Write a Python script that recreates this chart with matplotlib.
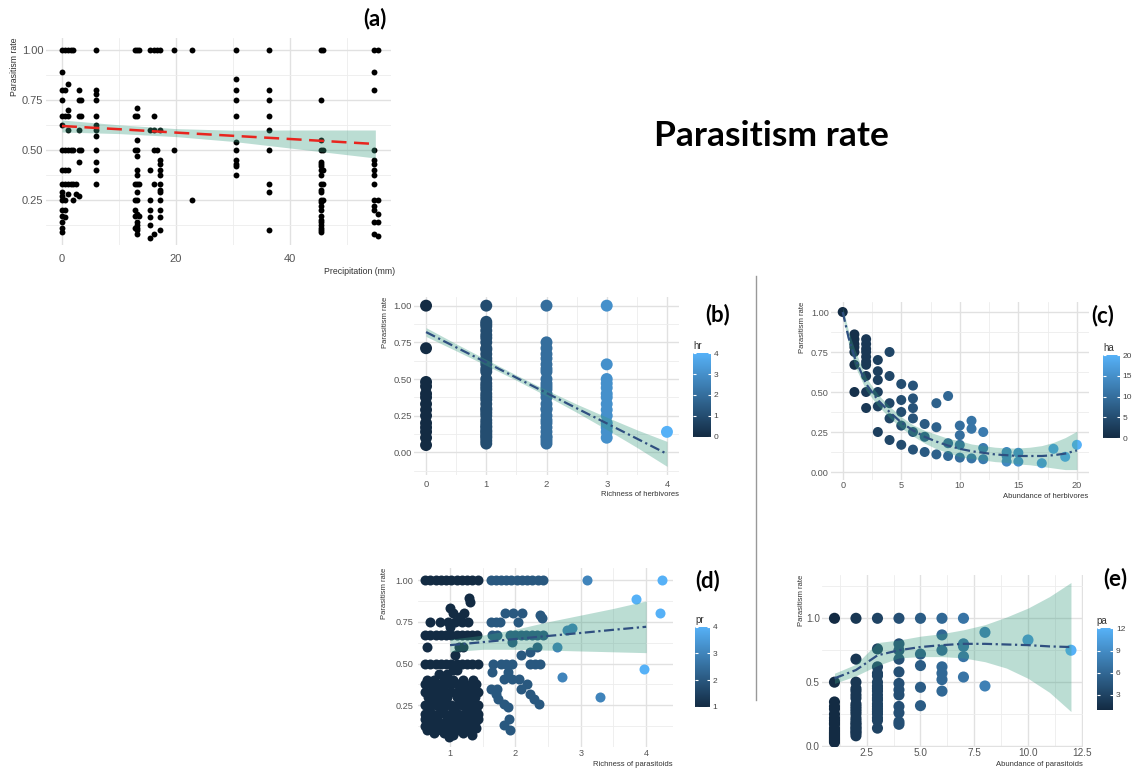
import matplotlib
matplotlib.use('Agg')
import matplotlib.pyplot as plt
import matplotlib.cm as cm
from matplotlib.colors import LinearSegmentedColormap, Normalize

plt.rcParams['font.family'] = ['Liberation Sans', 'DejaVu Sans']

# ---------------- data ----------------
# (a) precipitation vs parasitism rate
a_precip = [0.0, 0.5, 1.0, 1.5, 2.0, 2.5, 3.0, 3.4, 6.0, 12.8, 13.2, 13.6, 15.5, 16.2,
            16.6, 17.2, 19.6, 22.9, 30.5, 36.4, 45.4, 45.8, 54.7, 55.4]
a_rates = [
    [1.0, 0.89, 0.8, 0.75, 0.67, 0.625, 0.5, 0.4, 0.33, 0.29, 0.27, 0.25, 0.2, 0.17, 0.14, 0.11, 0.09],
    [1.0, 0.8, 0.67, 0.5, 0.4, 0.33, 0.25, 0.2, 0.167],
    [1.0, 0.83, 0.7, 0.67, 0.6, 0.5, 0.4, 0.33, 0.28],
    [1.0, 0.5, 0.33],
    [1.0, 0.5, 0.33, 0.25],
    [0.33, 0.28],
    [0.8, 0.75, 0.67, 0.6, 0.5, 0.44, 0.27],
    [0.75, 0.67, 0.5],
    [1.0, 0.8, 0.78, 0.75, 0.67, 0.625, 0.6, 0.57, 0.5, 0.44, 0.4, 0.33],
    [1.0, 0.67, 0.5, 0.33, 0.25, 0.2, 0.17, 0.11],
    [1.0, 0.71, 0.67, 0.55, 0.5, 0.47, 0.4, 0.375, 0.33, 0.29, 0.25, 0.18, 0.14, 0.125, 0.11, 0.1, 0.08],
    [1.0, 0.33, 0.17],
    [1.0, 0.6, 0.4, 0.25, 0.2, 0.167, 0.125, 0.06],
    [1.0, 0.67, 0.6, 0.5, 0.33, 0.08],
    [1.0, 0.5],
    [1.0, 0.6, 0.45, 0.43, 0.4, 0.375, 0.33, 0.3, 0.29, 0.25, 0.2, 0.167, 0.1],
    [1.0, 0.5],
    [1.0, 0.25],
    [1.0, 0.857, 0.8, 0.75, 0.67, 0.54, 0.5, 0.45, 0.43, 0.42, 0.375],
    [1.0, 0.8, 0.75, 0.67, 0.6, 0.5, 0.33, 0.29, 0.1],
    [1.0, 0.75, 0.55, 0.5, 0.44, 0.43, 0.42, 0.4, 0.375, 0.33, 0.3, 0.29, 0.25, 0.24, 0.22,
     0.2, 0.17, 0.15, 0.14, 0.125, 0.11, 0.1, 0.09],
    [1.0, 0.5, 0.4, 0.33, 0.25],
    [1.0, 0.89, 0.8, 0.5, 0.45, 0.43, 0.4, 0.375, 0.33, 0.25, 0.22, 0.2, 0.14, 0.08],
    [1.0, 0.25, 0.18, 0.14, 0.07],
]
a_fit_x = [0, 10, 20, 30, 40, 55]
a_fit_y = [0.62, 0.604, 0.587, 0.571, 0.555, 0.53]
a_fit_lo = [0.59, 0.582, 0.567, 0.543, 0.51, 0.46]
a_fit_hi = [0.65, 0.626, 0.607, 0.599, 0.60, 0.60]

# (b) richness of herbivores
b_hr = [0, 1, 2, 3, 4]
b_rates = [
    [1.0, 0.71, 0.48, 0.45, 0.4, 0.375, 0.33, 0.29, 0.25, 0.2, 0.17, 0.14, 0.1, 0.05],
    [1.0, 0.89, 0.875, 0.86, 0.83, 0.8, 0.78, 0.75, 0.71, 0.7, 0.67, 0.64, 0.62, 0.6, 0.57,
     0.55, 0.5, 0.47, 0.45, 0.43, 0.4, 0.38, 0.36, 0.33, 0.3, 0.29, 0.27, 0.25, 0.22, 0.2,
     0.18, 0.17, 0.15, 0.14, 0.125, 0.11, 0.1, 0.08, 0.06],
    [1.0, 0.75, 0.71, 0.67, 0.64, 0.6, 0.57, 0.55, 0.5, 0.47, 0.45, 0.43, 0.4, 0.375, 0.33,
     0.3, 0.29, 0.25, 0.22, 0.2, 0.17, 0.14, 0.11, 0.1, 0.08, 0.06],
    [1.0, 0.6, 0.5, 0.47, 0.44, 0.4, 0.375, 0.33, 0.29, 0.25, 0.2, 0.17, 0.14, 0.1],
    [0.14],
]
b_fit_x = [0, 0.5, 1, 1.5, 2, 2.5, 3, 3.5, 4]
b_fit_y = [0.82, 0.716, 0.613, 0.509, 0.405, 0.301, 0.198, 0.094, -0.01]
b_fit_lo = [0.79, 0.692, 0.593, 0.491, 0.385, 0.273, 0.156, 0.034, -0.095]
b_fit_hi = [0.85, 0.740, 0.633, 0.527, 0.425, 0.329, 0.240, 0.154, 0.075]

# (c) abundance of herbivores
c_ha = [0, 1, 2, 3, 4, 5, 6, 7, 8, 9, 10, 11, 12, 14, 15, 17, 18, 19, 20]
c_rates = [
    [1.0],
    [0.86, 0.83, 0.8, 0.78, 0.75, 0.67, 0.5],
    [0.83, 0.8, 0.77, 0.75, 0.72, 0.69, 0.67, 0.6, 0.5, 0.4],
    [0.7, 0.63, 0.575, 0.5, 0.41, 0.25],
    [0.75, 0.6, 0.43, 0.335, 0.2],
    [0.55, 0.45, 0.375, 0.29, 0.17],
    [0.54, 0.46, 0.4, 0.335, 0.25, 0.14],
    [0.3, 0.22, 0.125],
    [0.43, 0.28, 0.11],
    [0.475, 0.18, 0.1],
    [0.29, 0.23, 0.17, 0.09],
    [0.32, 0.27, 0.085],
    [0.25, 0.15, 0.08],
    [0.125, 0.1, 0.065],
    [0.12, 0.065],
    [0.055],
    [0.145],
    [0.095],
    [0.17],
]
c_fit_x = [0, 0.5, 1, 2, 3, 4, 5, 6, 7, 8, 9, 10, 11, 12, 13, 14, 15, 16, 17, 18, 19, 20]
c_fit_y = [1.0, 0.84, 0.72, 0.55, 0.45, 0.375, 0.31, 0.26, 0.22, 0.19, 0.165, 0.145, 0.13,
           0.12, 0.11, 0.105, 0.10, 0.10, 0.10, 0.105, 0.115, 0.135]
c_fit_lo = [0.97, 0.80, 0.67, 0.51, 0.415, 0.34, 0.275, 0.225, 0.18, 0.145, 0.12, 0.095,
            0.085, 0.075, 0.065, 0.06, 0.05, 0.045, 0.035, 0.025, 0.015, 0.015]
c_fit_hi = [1.03, 0.88, 0.77, 0.59, 0.485, 0.41, 0.345, 0.295, 0.26, 0.235, 0.21, 0.195,
            0.175, 0.165, 0.155, 0.15, 0.15, 0.155, 0.165, 0.185, 0.215, 0.255]

# (d) richness of parasitoids (jittered positions as they appear)
d1_row_y = [1.0, 0.89, 0.87, 0.83, 0.8, 0.78, 0.75, 0.72, 0.67, 0.6, 0.55, 0.5, 0.46, 0.44,
            0.4, 0.375, 0.33, 0.3, 0.286, 0.25, 0.222, 0.2, 0.18, 0.167, 0.143, 0.125,
            0.111, 0.1, 0.083, 0.07, 0.06]
d1_row_x = [
    [0.62, 0.70, 0.78, 0.86, 0.94, 1.02, 1.10, 1.18, 1.26, 1.34, 1.42],
    [1.29], [1.31], [1.00], [1.05, 1.22], [1.15],
    [0.69, 0.85, 0.97, 1.08, 1.18, 1.28], [1.00],
    [0.62, 0.70, 0.78, 0.86, 0.94, 1.02, 1.10, 1.18, 1.26, 1.34, 1.41],
    [0.64, 1.13, 1.20], [1.08],
    [0.62, 0.70, 0.78, 0.86, 0.94, 1.02, 1.10, 1.18, 1.26, 1.34, 1.42],
    [1.04, 1.10], [0.83, 0.95],
    [0.65, 0.75, 0.90, 1.05, 1.20, 1.35],
    [0.62, 0.72, 0.82, 0.92, 1.02, 1.12, 1.22, 1.32, 1.40],
    [0.62, 0.70, 0.78, 0.86, 0.94, 1.02, 1.10, 1.18, 1.26, 1.34, 1.42],
    [0.66, 0.80, 0.95, 1.10, 1.25, 1.38],
    [0.70, 0.90, 1.15, 1.30],
    [0.62, 0.70, 0.78, 0.86, 0.94, 1.02, 1.10, 1.18, 1.26, 1.34, 1.42],
    [0.68, 0.88, 1.05, 1.27, 1.40],
    [0.62, 0.72, 0.82, 0.92, 1.02, 1.12, 1.22, 1.32, 1.42],
    [0.75, 1.00, 1.20],
    [0.62, 0.80, 0.95, 1.10, 1.30, 1.42],
    [0.70, 0.90, 1.05, 1.25, 1.38],
    [0.62, 0.78, 0.98, 1.15, 1.33],
    [0.68, 0.86, 1.06, 1.22, 1.40],
    [0.65, 0.80, 0.95, 1.12, 1.28],
    [0.75, 0.90, 1.20],
    [1.05, 1.33],
    [0.98],
]
d2_row_y = [1.0, 0.8, 0.79, 0.77, 0.75, 0.67, 0.63, 0.6, 0.57, 0.55, 0.5, 0.45, 0.41, 0.38,
            0.35, 0.32, 0.29, 0.26, 0.24, 0.17, 0.13, 0.1]
d2_row_x = [
    [1.62, 1.70, 1.78, 1.86, 1.94, 2.02, 2.10, 2.18, 2.26, 2.34, 2.42],
    [1.84, 1.97, 2.10], [2.38], [2.41], [1.62, 1.70, 1.76, 2.04],
    [1.64, 1.72, 1.92, 2.00, 2.08, 2.16, 2.25, 2.33, 2.42],
    [1.95], [2.33], [2.22], [2.08],
    [1.66, 1.78, 1.86, 1.95, 2.22, 2.30, 2.38],
    [1.64, 1.88], [1.82, 1.95, 2.05], [2.17], [1.62, 1.72, 2.08], [1.70, 2.23],
    [1.74, 2.28], [1.82, 2.36], [1.88], [1.90], [1.82], [1.92],
]
d3_x = [2.63, 2.71, 2.79, 2.86, 3.09, 3.30]
d3_y = [0.6, 0.42, 0.70, 0.715, 1.0, 0.30]
d4_x = [3.84, 4.24, 4.21, 3.97]
d4_y = [0.886, 1.0, 0.8, 0.47]
d_fit_x = [1, 1.5, 2, 2.5, 3, 3.5, 4]
d_fit_y = [0.61, 0.628, 0.647, 0.665, 0.683, 0.702, 0.72]
d_fit_lo = [0.57, 0.585, 0.585, 0.58, 0.575, 0.57, 0.565]
d_fit_hi = [0.645, 0.67, 0.705, 0.75, 0.79, 0.83, 0.875]

# (e) abundance of parasitoids
e_pa = [1, 2, 3, 4, 5, 6, 7, 8, 10, 12]
e_rates = [
    [1.0, 0.5, 0.345, 0.31, 0.29, 0.25, 0.22, 0.2, 0.18, 0.17, 0.14, 0.125, 0.11, 0.1,
     0.09, 0.08, 0.07, 0.06, 0.05, 0.04, 0.03],
    [1.0, 0.68, 0.5, 0.45, 0.43, 0.4, 0.375, 0.33, 0.31, 0.29, 0.27, 0.25, 0.22, 0.2,
     0.18, 0.17, 0.15, 0.14, 0.125, 0.11, 0.1, 0.08],
    [1.0, 0.76, 0.62, 0.57, 0.55, 0.5, 0.47, 0.45, 0.43, 0.4, 0.375, 0.36, 0.33, 0.31,
     0.29, 0.27, 0.25, 0.22, 0.2, 0.14],
    [1.0, 0.8, 0.75, 0.68, 0.58, 0.49, 0.44, 0.4, 0.31, 0.26, 0.19, 0.17],
    [1.0, 0.72, 0.63, 0.46, 0.316],
    [1.0, 0.87, 0.75, 0.62, 0.57, 0.52, 0.43],
    [1.0, 0.8, 0.78, 0.7, 0.54],
    [0.89, 0.47],
    [0.83],
    [0.75],
]
e_fit_x = [1, 2, 3, 4, 5, 6, 7, 8, 9, 10, 11, 12]
e_fit_y = [0.53, 0.595, 0.71, 0.75, 0.775, 0.79, 0.80, 0.80, 0.795, 0.79, 0.78, 0.775]
e_fit_lo = [0.49, 0.55, 0.63, 0.69, 0.70, 0.70, 0.69, 0.66, 0.61, 0.53, 0.42, 0.27]
e_fit_hi = [0.57, 0.64, 0.81, 0.83, 0.86, 0.88, 0.91, 0.95, 1.01, 1.08, 1.17, 1.28]

# ---------------- styling ----------------
W, H = 1133, 769
fig = plt.figure(figsize=(W / 100, H / 100), dpi=100)

gg_cmap = LinearSegmentedColormap.from_list('gg', ['#132B43', '#56B1F7'])
ribbon_col = '#3a9c80'
ribbon_alpha = 0.34
fit_col = '#2f4f80'
dashdot = (0, (4.5, 1.6, 1.0, 1.6))
tag_font = ['Lato', 'Liberation Sans', 'DejaVu Sans']


def axes_px(l, t, r, b):
    return fig.add_axes([l / W, 1 - b / H, (r - l) / W, (b - t) / H])


def gg_minimal(ax, xlim, ylim, xmaj, xmin, ymaj, ymin, xfmt, yfmt, fs, xpad, ypad):
    ax.set_xlim(xlim)
    ax.set_ylim(ylim)
    ax.set_xticks(xmaj)
    ax.set_xticks(xmin, minor=True)
    ax.set_yticks(ymaj)
    ax.set_yticks(ymin, minor=True)
    ax.set_xticklabels([xfmt.format(v) for v in xmaj])
    ax.set_yticklabels([yfmt.format(v) for v in ymaj])
    for s in ax.spines.values():
        s.set_visible(False)
    ax.grid(True, which='major', color='#e1e1e1', lw=1.0)
    ax.grid(True, which='minor', color='#ededed', lw=0.6)
    ax.set_axisbelow(True)
    ax.tick_params(which='both', length=0, labelsize=fs, labelcolor='#555555')
    ax.tick_params(axis='x', pad=xpad)
    ax.tick_params(axis='y', pad=ypad)


def axis_titles(ax, xt, yt, xy, yx, fs, xx=1.0):
    ax.text(xx, xy, xt, transform=ax.transAxes, ha='right', va='center', fontsize=fs, color='#333333')
    ax.text(yx, 1.0, yt, transform=ax.transAxes, ha='center', va='top', rotation=90,
            fontsize=fs, color='#333333')


def colorbar_px(l, t, r, b, vmin, vmax, ticks, title):
    cax = axes_px(l, t, r, b)
    sm = cm.ScalarMappable(norm=Normalize(vmin, vmax), cmap=gg_cmap)
    cb = fig.colorbar(sm, cax=cax)
    cb.outline.set_visible(False)
    cb.set_ticks(ticks)
    cb.minorticks_off()
    cax.tick_params(direction='in', length=2.5, width=0.8, color='white', left=True, right=True,
                    labelsize=6, labelcolor='#444444', pad=2)
    fig.text(l / W, 1 - (t - 2) / H, title, fontsize=7, ha='left', va='bottom', color='#333333')


def panel_tag(x, y, s):
    fig.text(x / W, 1 - y / H, s, fontsize=16, fontweight='bold', ha='center', va='center',
             family=tag_font)


norm_b = Normalize(0, 4)
norm_c = Normalize(0, 20)
norm_d = Normalize(1, 4)
norm_e = Normalize(1, 12)

# ---- (a)
ax_a = axes_px(46.3, 38, 391, 245)
gg_minimal(ax_a, (-2.75, 57.75), (0.025, 1.06), [0, 20, 40], [10, 30, 50],
           [0.25, 0.5, 0.75, 1.0], [0.125, 0.375, 0.625, 0.875], '{:.0f}', '{:.2f}', 8, 6.5, 2.2)
ax_a_x = [p for p, rs in zip(a_precip, a_rates) for _ in rs]
ax_a_y = [r for rs in a_rates for r in rs]
ax_a.scatter(ax_a_x, ax_a_y, s=18, color='black', linewidths=0, zorder=2)
ax_a.fill_between(a_fit_x, a_fit_lo, a_fit_hi, color=ribbon_col, alpha=ribbon_alpha, lw=0, zorder=3)
ax_a.plot(a_fit_x, a_fit_y, color='#e8251e', lw=1.8, ls=(0, (6, 3)), zorder=4)
axis_titles(ax_a, 'Precipitation (mm)', 'Parasitism rate', -0.126, -0.091, 6.3, xx=1.012)

# ---- (b)
ax_b = axes_px(414, 297, 679, 475)
gg_minimal(ax_b, (-0.2, 4.2), (-0.154, 1.059), [0, 1, 2, 3, 4], [0.5, 1.5, 2.5, 3.5],
           [0, 0.25, 0.5, 0.75, 1.0], [-0.125, 0.125, 0.375, 0.625, 0.875],
           '{:.0f}', '{:.2f}', 6.8, 3.6, 1.5)
bx = [h for h, rs in zip(b_hr, b_rates) for _ in rs]
by = [r for rs in b_rates for r in rs]
ax_b.scatter(bx, by, c=bx, cmap=gg_cmap, norm=norm_b, s=74, linewidths=0, zorder=2)
ax_b.fill_between(b_fit_x, b_fit_lo, b_fit_hi, color=ribbon_col, alpha=ribbon_alpha, lw=0, zorder=3)
ax_b.plot(b_fit_x, b_fit_y, color=fit_col, lw=1.6, ls=dashdot, zorder=4)
axis_titles(ax_b, 'Richness of herbivores', 'Parasitism rate', -0.107, -0.109, 5.5)
colorbar_px(693.3, 353.3, 710.7, 436.7, 0, 4, [0, 1, 2, 3, 4], 'hr')

# ---- (c)
ax_c = axes_px(831, 302, 1088.6, 480)
gg_minimal(ax_c, (-1, 21), (-0.05, 1.0625), [0, 5, 10, 15, 20], [2.5, 7.5, 12.5, 17.5],
           [0, 0.25, 0.5, 0.75, 1.0], [0.125, 0.375, 0.625, 0.875],
           '{:.0f}', '{:.2f}', 6.6, 1.0, 1.5)
cx = [h for h, rs in zip(c_ha, c_rates) for _ in rs]
cy = [r for rs in c_rates for r in rs]
ax_c.scatter(cx, cy, c=cx, cmap=gg_cmap, norm=norm_c, s=52, linewidths=0, zorder=2)
ax_c.fill_between(c_fit_x, c_fit_lo, c_fit_hi, color=ribbon_col, alpha=ribbon_alpha, lw=0, zorder=3)
ax_c.plot(c_fit_x, c_fit_y, color=fit_col, lw=1.6, ls=dashdot, zorder=4)
axis_titles(ax_c, 'Abundance of herbivores', 'Parasitism rate', -0.09, -0.109, 5.5)
colorbar_px(1103.3, 355, 1120, 438.3, 0, 20, [0, 5, 10, 15, 20], 'ha')

# ---- (d)
ax_d = axes_px(418, 568, 673, 747)
gg_minimal(ax_d, (0.51, 4.41), (0.0, 1.072), [1, 2, 3, 4], [1.5, 2.5, 3.5],
           [0.25, 0.5, 0.75, 1.0], [0.125, 0.375, 0.625, 0.875],
           '{:.0f}', '{:.2f}', 6.6, 1.5, 3.6)
d_groups = [(1, [x for xs in d1_row_x for x in xs], [y for y, xs in zip(d1_row_y, d1_row_x) for _ in xs]),
            (2, [x for xs in d2_row_x for x in xs], [y for y, xs in zip(d2_row_y, d2_row_x) for _ in xs]),
            (3, d3_x, d3_y),
            (4, d4_x, d4_y)]
for pr, xs, ys in d_groups:
    ax_d.scatter(xs, ys, color=gg_cmap(norm_d(pr)), s=52, linewidths=0, zorder=2)
ax_d.fill_between(d_fit_x, d_fit_lo, d_fit_hi, color=ribbon_col, alpha=ribbon_alpha, lw=0, zorder=3)
ax_d.plot(d_fit_x, d_fit_y, color=fit_col, lw=1.6, ls=dashdot, zorder=4)
axis_titles(ax_d, 'Richness of parasitoids', 'Parasitism rate', -0.095, -0.13, 5.5)
colorbar_px(695, 626.7, 710, 706.7, 1, 4, [1, 2, 3, 4], 'pr')

# ---- (e)
ax_e = axes_px(822, 575, 1083, 747.3)
gg_minimal(ax_e, (0.42, 12.56), (-0.01, 1.339), [2.5, 5.0, 7.5, 10.0, 12.5],
           [1.25, 3.75, 6.25, 8.75, 11.25], [0.0, 0.5, 1.0], [0.25, 0.75, 1.25],
           '{:.1f}', '{:.1f}', 7.2, 0.5, 1.5)
ex = [p for p, rs in zip(e_pa, e_rates) for _ in rs]
ey = [r for rs in e_rates for r in rs]
ax_e.scatter(ex, ey, c=ex, cmap=gg_cmap, norm=norm_e, s=64, linewidths=0, zorder=2)
ax_e.fill_between(e_fit_x, e_fit_lo, e_fit_hi, color=ribbon_col, alpha=ribbon_alpha, lw=0, zorder=3)
ax_e.plot(e_fit_x, e_fit_y, color=fit_col, lw=1.6, ls=dashdot, zorder=4)
axis_titles(ax_e, 'Abundance of parasitoids', 'Parasitism rate', -0.1, -0.08, 5.5)
colorbar_px(1096.7, 628.3, 1113.3, 709.8, 1, 12, [3, 6, 9, 12], 'pa')

# ---- title, tags, separator
fig.text(771.5 / W, 1 - 146 / H, 'Parasitism rate', fontsize=25.5, fontweight='bold',
         ha='center', va='baseline', family=tag_font)
panel_tag(375, 19, '(a)')
panel_tag(718, 315, '(b)')
panel_tag(1103, 316, '(c)')
panel_tag(708, 581, '(d)')
panel_tag(1115, 579, '(e)')
fig.add_artist(plt.Line2D([755.7 / W, 755.7 / W], [1 - 276 / H, 1 - 700 / H],
                          color='#999999', lw=1.0, transform=fig.transFigure))

fig.savefig('out.png', dpi=100)
